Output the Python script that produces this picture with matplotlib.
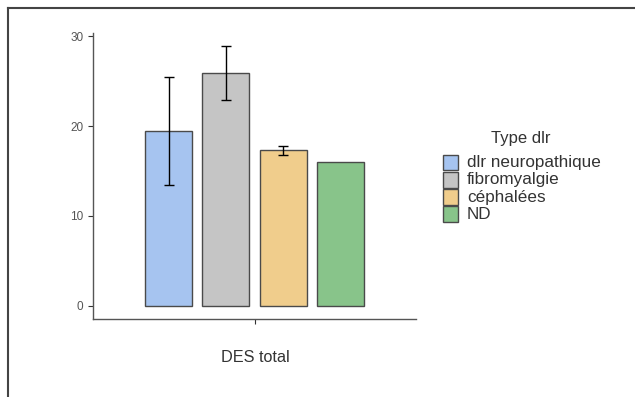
import matplotlib
matplotlib.use("Agg")
import matplotlib.pyplot as plt
from matplotlib.patches import Rectangle
from matplotlib.lines import Line2D

plt.rcParams['font.family'] = ['Liberation Sans', 'DejaVu Sans']

group = "DES total"
types = ["dlr neuropathique", "fibromyalgie", "céphalées", "ND"]
means = [19.4, 25.9, 17.3, 16.0]
err_low = [13.4, 22.9, 16.8, None]
err_high = [25.4, 28.9, 17.8, None]
colors = ["#A6C4F0", "#C5C5C5", "#F0CD8C", "#88C48A"]
legend_title = "Type dlr"

W, H = 635, 397
fig = plt.figure(figsize=(6.35, 3.97), dpi=100)
ax = fig.add_axes([93/W, 1-319/H, (416-93)/W, (319-32.9)/H])

step = 0.2118
width = 0.1746
n = len(types)
for i, (t, m, c) in enumerate(zip(types, means, colors)):
    x = 1 + (i - (n-1)/2) * step
    ax.bar(x, m, width=width, color=c, edgecolor="#4a4a4a", linewidth=1.0, zorder=2)
    if err_low[i] is not None:
        lo, hi = err_low[i], err_high[i]
        ax.errorbar(x, m, yerr=[[m-lo], [hi-m]], fmt='none', ecolor='black',
                    elinewidth=1.0, capsize=3.5, capthick=1.0, zorder=3)

ax.set_xlim(0.4, 1.6)
ax.set_ylim(-1.445, 30.345)
ax.set_xticks([1])
ax.set_xticklabels([""])
ax.set_yticks([0, 10, 20, 30])
ax.tick_params(axis='both', colors='#333333', labelcolor='#555555', labelsize=8.5, length=3.5, width=0.8)
for s in ['top', 'right']:
    ax.spines[s].set_visible(False)
for s in ['left', 'bottom']:
    ax.spines[s].set_color('#555555')
    ax.spines[s].set_linewidth(1.0)

fig.text(255/W, 1-357/H, group, ha='center', va='center', fontsize=11.7, color='#333333')

# legend (drawn manually)
fig.text(521/W, 1-138/H, legend_title, ha='center', va='center', fontsize=12, color='#333333')
key_h = 17.3
top = 154
for i, (t, c) in enumerate(zip(types, colors)):
    y0 = top + i * key_h
    fig.add_artist(Rectangle((442.5/W, 1-(y0+key_h-1)/H), 15.5/W, (key_h-1.5)/H,
                             transform=fig.transFigure, facecolor=c, edgecolor='#4a4a4a', linewidth=1.0))
    fig.text(467/W, 1-(y0+key_h/2)/H, t, ha='left', va='center', fontsize=12.3, color='#333333')

fig.add_artist(Line2D([8/W, 1], [1-8/H, 1-8/H], color='#444444', linewidth=1.5))
fig.add_artist(Line2D([8/W, 8/W], [0, 1-8/H], color='#444444', linewidth=1.5))

fig.savefig("out.png", dpi=100)
